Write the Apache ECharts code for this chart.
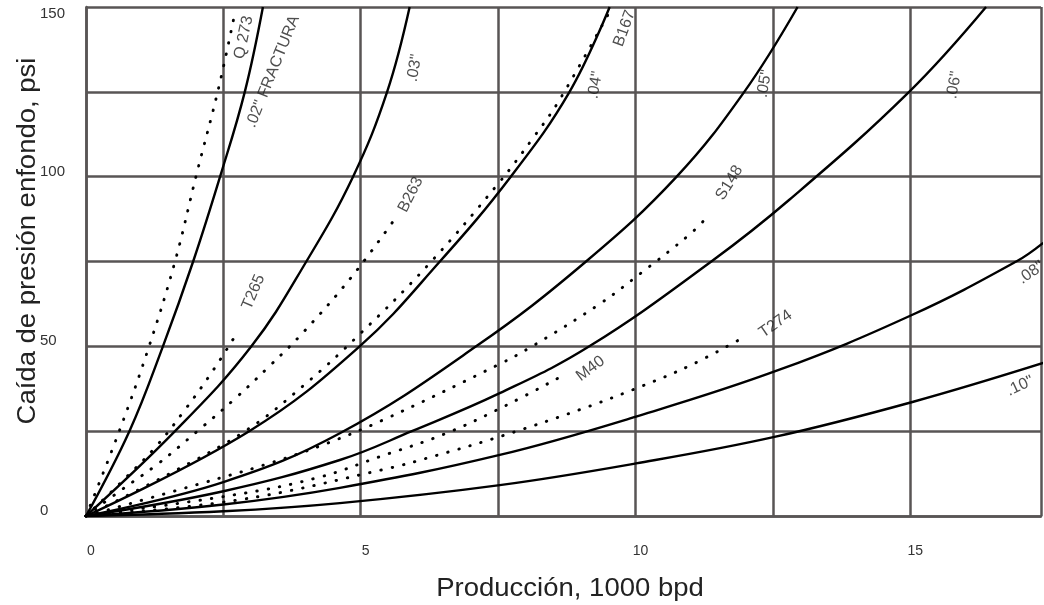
<!DOCTYPE html>
<html>
<head>
<meta charset="utf-8">
<script src="https://cdn.jsdelivr.net/npm/echarts@6/dist/echarts.min.js"></script>
<style>
	html,body{margin:0;padding:0;background:#fff;}
	#chart{width:1044px;height:605px;}
</style>
</head>
<body>
<div id="chart"></div>
<script>
	// curvas sólidas (orificio), [producción, caída]
	var c02 = [[0,0],[0.79,25],[1.4,50],[1.95,75],[2.44,100],[2.89,125],[3.22,150]]
	var c03 = [[0,0],[1.62,25],[3.01,50],[4.01,75],[4.86,100],[5.48,125],[5.89,150]]
	var c04 = [[0,0],[2.97,25],[4.98,50],[6.44,75],[7.73,100],[8.8,125],[9.53,150]]
	var c05 = [[0,0],[2.5,10],[4.62,24.4],[7.1,50],[9.1,75],[10.75,100],[11.98,125],[12.95,150]]
	var c06 = [[0,0],[2.5,7.3],[4.62,16.5],[5.93,25],[7.53,36.2],[9.16,50],[11.38,75],[12.8,93.2],[14.98,125],[16.38,150]]
	var c08 = [[0,0],[2.5,3.4],[4.62,8.3],[7.53,18],[10.01,29.3],[12.62,43.1],[15.04,59.3],[16.93,75],[17.42,80.5]]
	var c10 = [[0,0],[2.5,1.4],[4.62,3.8],[7.53,9.1],[10.01,15.5],[12.53,23.3],[15.04,33.6],[17.42,45.1]]

	// curvas punteadas (pozos)
	var q273 = [[0,0],[0.61,25.2],[1.15,50.1],[1.62,75],[2.01,100.6],[2.41,125.9],[2.71,148.3]]
	var t265 = [[0,0],[0.65,10.1],[1.27,20.4],[1.81,31.5],[2.3,42.6],[2.75,54]]
	var b263 = [[0,0],[0.62,7.4],[1.32,15.5],[2.02,24.9],[2.7,34.4],[3.36,44.5],[3.97,54.4],[4.84,70.6],[5.61,87.3]]
	var b167 = [[0,0],[1.5,12.3],[2.94,25.5],[3.97,38.6],[4.97,53.4],[6.21,73.7],[7.5,97.9],[8.15,111.7],[8.62,122.7],[9.56,149.5]]
	var s148 = [[0,0],[2.42,11.1],[3.33,15.5],[4.27,20.7],[5.38,28.1],[7.53,44.8],[8.16,50.4],[9.35,62.5],[10.1,71.6],[10.98,82.9],[11.3,88]]
	var m40 = [[0,0],[2.76,6.4],[4.24,11.4],[5.35,17.5],[6.53,24.2],[7.62,32.4],[8.68,41.4]]
	var t274 = [[0,0],[2.76,4.7],[5.44,13.8],[6.41,18],[7.59,23.7],[8.98,31.3],[10.12,38.3],[11.0,44.4],[11.86,51.7]]

	// rótulos de las curvas
	var labelText = ['Q 273', '.02" FRACTURA', '.03"', 'B263', '.04"', 'B167', '.05"', '.06"', 'S148', 'T265', 'M40', 'T274', '.08"', '.10"']
	var labelAt = [[2.87,141],[3.4,131],[5.98,132],[5.91,94.7],[9.27,127],[9.8,143.7],[12.35,127.4],[15.8,127],[11.71,98.2],[3.05,66],[9.18,43.4],[12.55,56.6],[17.2,71.7],[17.0,38.3]]
	var labelAngle = [78,68,80,63,80,70,80,80,58,67,37,35,35,25]

	var xTicks = [0, 5, 10, 15]
	var yTicks = [0, 50, 100, 150]

	var chart = echarts.init(document.getElementById('chart'))
	var gridColor = '#585555'
	var font = 'Liberation Sans, Arial, sans-serif'

	var solid = [c02, c03, c04, c05, c06, c08, c10]
	var dotted = [q273, t265, b263, b167, s148, m40, t274]
	var series = []
	for(var i=0;i<solid.length;i++){
		series.push({
			type:'line',
			data:solid[i],
			smooth:0.4,
			showSymbol:false,
			lineStyle:{color:'#000',width:2.4},
			z:3
		})
	}
	for(var i=0;i<dotted.length;i++){
		series.push({
			type:'line',
			data:dotted[i],
			smooth:0.4,
			showSymbol:false,
			lineStyle:{color:'#000',width:2.9,type:[0.5,11],cap:'round'},
			z:3
		})
	}
	var labelData = []
	for(var i=0;i<labelText.length;i++){
		labelData.push({
			value:labelAt[i],
			label:{formatter:labelText[i],rotate:labelAngle[i]}
		})
	}
	series.push({
		type:'scatter',
		data:labelData,
		symbolSize:0,
		silent:true,
		clip:false,
		label:{show:true,position:'inside',fontSize:16,color:'#222',fontFamily:font},
		z:4
	})

	var option = {
		animation:false,
		grid:{left:86,top:7,right:0,bottom:89},
		xAxis:{
			type:'value',
			min:0,
			max:17.38,
			interval:2.5,
			axisLine:{lineStyle:{color:gridColor,width:2.5}},
			axisTick:{show:false},
			splitLine:{lineStyle:{color:gridColor,width:2.5}},
			axisLabel:{
				margin:28,
				fontSize:14,
				color:'#333',
				fontFamily:font,
				padding:[0,0,0,10],
				formatter:function(v){ return xTicks.indexOf(v) >= 0 ? String(v) : '' }
			}
		},
		yAxis:{
			type:'value',
			min:0,
			max:150,
			interval:25,
			axisLine:{show:true,lineStyle:{color:gridColor,width:2.5}},
			axisTick:{show:false},
			splitLine:{lineStyle:{color:gridColor,width:2.5}},
			axisLabel:{
				margin:46,
				align:'left',
				fontSize:15,
				color:'#333',
				fontFamily:font,
				formatter:function(v){
					if(yTicks.indexOf(v) < 0) return ''
					return v == 150 ? '{t|' + v + '}' : '{n|' + v + '}'
				},
				rich:{
					n:{fontSize:15,color:'#333',fontFamily:font,padding:[0,0,10,0]},
					t:{fontSize:15,color:'#333',fontFamily:font,padding:[14,0,0,0]}
				}
			}
		},
		graphic:[
			{
				type:'text',
				x:570,
				y:589,
				scaleX:1.1,
				style:{text:'Producción, 1000 bpd',font:'25px ' + font,fill:'#222',textAlign:'center',textVerticalAlign:'middle'}
			},
			{
				type:'text',
				x:28,
				y:241,
				rotation:Math.PI/2,
				scaleX:1.1,
				style:{text:'Caída de presión enfondo, psi',font:'25px ' + font,fill:'#222',textAlign:'center',textVerticalAlign:'middle'}
			}
		],
		series:series
	}
	chart.setOption(option)
</script>
</body>
</html>
